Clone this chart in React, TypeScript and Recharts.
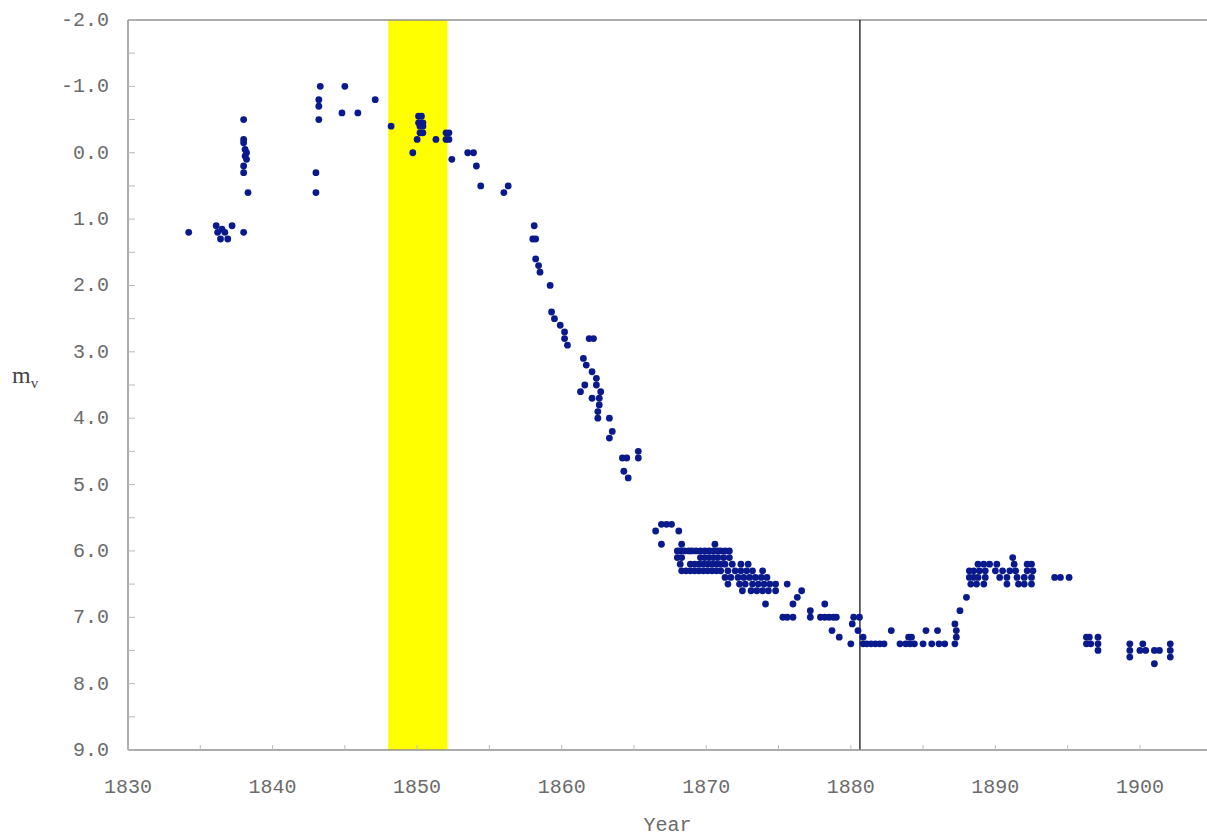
import React from 'react';
import {
  ReferenceArea,
  ReferenceLine,
  Scatter,
  ScatterChart,
  XAxis,
  YAxis,
} from 'recharts';

// [year, visual magnitude]
const earlyObs: [number, number][] = [
  [1834.2, 1.2],
  [1836.1, 1.1], [1836.2, 1.2], [1836.4, 1.3], [1836.5, 1.15], [1836.7, 1.2], [1836.9, 1.3], [1837.2, 1.1], [1838.0, 1.2],
  [1838.0, -0.5], [1838.0, -0.2], [1838.0, -0.15], [1838.1, -0.05], [1838.2, 0.0], [1838.1, 0.05], [1838.2, 0.1],
  [1838.0, 0.2], [1838.0, 0.3], [1838.3, 0.6],
  [1843.3, -1.0], [1843.2, -0.8], [1843.2, -0.7], [1843.2, -0.5], [1843.0, 0.3], [1843.0, 0.6],
  [1845.0, -1.0], [1844.8, -0.6], [1845.9, -0.6], [1847.1, -0.8], [1848.2, -0.4],
];

const outburstObs: [number, number][] = [
  [1850.1, -0.55], [1850.3, -0.55], [1850.1, -0.45], [1850.4, -0.45], [1850.2, -0.4], [1850.4, -0.4],
  [1850.2, -0.3], [1850.4, -0.3], [1850.0, -0.2], [1849.7, 0.0], [1851.3, -0.2],
  [1852.0, -0.3], [1852.2, -0.3], [1852.0, -0.2], [1852.2, -0.2], [1852.4, 0.1],
];

const declineObs: [number, number][] = [
  [1853.5, 0.0], [1853.9, 0.0], [1854.1, 0.2], [1854.4, 0.5], [1856.0, 0.6], [1856.3, 0.5],
  [1858.1, 1.1], [1858.0, 1.3], [1858.2, 1.3], [1858.2, 1.6], [1858.4, 1.7], [1858.5, 1.8],
  [1859.2, 2.0], [1859.3, 2.4], [1859.5, 2.5], [1859.9, 2.6], [1860.2, 2.7], [1860.2, 2.8], [1860.4, 2.9],
  [1861.9, 2.8], [1862.2, 2.8], [1861.5, 3.1], [1861.7, 3.2], [1862.1, 3.3], [1862.4, 3.4], [1862.4, 3.5],
  [1861.6, 3.5], [1861.3, 3.6], [1862.7, 3.6], [1862.1, 3.7], [1862.6, 3.7], [1862.6, 3.8], [1862.5, 3.9],
  [1862.5, 4.0], [1863.3, 4.0], [1863.5, 4.2], [1863.3, 4.3], [1864.2, 4.6], [1864.5, 4.6], [1865.3, 4.5],
  [1865.3, 4.6], [1864.3, 4.8], [1864.6, 4.9],
  [1866.5, 5.7], [1866.9, 5.6], [1867.25, 5.6], [1867.6, 5.6], [1868.1, 5.7], [1866.9, 5.9],
];

const plateauObs: [number, number][] = [
  [1868.3, 5.9], [1870.6, 5.9],
  [1868.0, 6.0], [1868.2, 6.0], [1868.5, 6.0], [1868.8, 6.0], [1869.0, 6.0], [1869.3, 6.0], [1869.6, 6.0],
  [1869.9, 6.0], [1870.2, 6.0], [1870.5, 6.0], [1870.8, 6.0], [1871.0, 6.0], [1871.3, 6.0], [1871.6, 6.0],
  [1868.0, 6.1], [1868.3, 6.1], [1869.6, 6.1], [1869.9, 6.1], [1870.2, 6.1], [1870.5, 6.1], [1870.8, 6.1],
  [1871.2, 6.1], [1871.6, 6.1],
  [1868.2, 6.2], [1868.9, 6.2], [1869.2, 6.2], [1869.5, 6.2], [1869.8, 6.2], [1870.1, 6.2], [1870.4, 6.2],
  [1870.7, 6.2], [1871.0, 6.2], [1871.3, 6.2], [1871.8, 6.2], [1872.4, 6.2], [1872.9, 6.2],
  [1868.3, 6.3], [1868.6, 6.3], [1868.9, 6.3], [1869.2, 6.3], [1869.5, 6.3], [1869.8, 6.3], [1870.1, 6.3],
  [1870.4, 6.3], [1870.7, 6.3], [1871.0, 6.3], [1871.5, 6.3], [1872.0, 6.3], [1872.4, 6.3], [1872.8, 6.3],
  [1873.2, 6.3], [1873.9, 6.3],
  [1871.3, 6.4], [1871.7, 6.4], [1872.2, 6.4], [1872.6, 6.4], [1873.0, 6.4], [1873.4, 6.4], [1873.8, 6.4],
  [1874.2, 6.4],
  [1871.5, 6.5], [1872.3, 6.5], [1872.7, 6.5], [1873.2, 6.5], [1873.6, 6.5], [1874.0, 6.5], [1874.4, 6.5],
  [1874.8, 6.5], [1875.6, 6.5],
  [1872.5, 6.6], [1873.1, 6.6], [1873.5, 6.6], [1873.9, 6.6], [1874.3, 6.6], [1874.8, 6.6],
  [1874.1, 6.8], [1876.6, 6.6], [1876.3, 6.7], [1876.0, 6.8], [1875.3, 7.0], [1875.6, 7.0], [1876.0, 7.0],
  [1877.2, 6.9], [1877.2, 7.0], [1878.2, 6.8], [1877.9, 7.0], [1878.2, 7.0], [1878.5, 7.0], [1878.8, 7.0],
  [1879.0, 7.0], [1878.7, 7.2], [1879.2, 7.3], [1880.0, 7.4],
  [1880.2, 7.0], [1880.6, 7.0], [1880.1, 7.1], [1880.5, 7.2], [1880.85, 7.3], [1880.85, 7.4],
];

const lateObs: [number, number][] = [
  [1881.1, 7.4], [1881.4, 7.4], [1881.7, 7.4], [1882.0, 7.4], [1882.3, 7.4], [1882.8, 7.2],
  [1883.4, 7.4], [1883.8, 7.4], [1884.1, 7.4], [1884.4, 7.4], [1884.0, 7.3], [1884.2, 7.3], [1885.0, 7.4],
  [1885.2, 7.2], [1885.6, 7.4], [1886.0, 7.2], [1886.1, 7.4], [1886.5, 7.4],
  [1887.2, 7.4], [1887.3, 7.3], [1887.3, 7.2], [1887.2, 7.1], [1887.55, 6.9], [1888.0, 6.7],
  [1891.2, 6.1],
  [1888.8, 6.2], [1889.2, 6.2], [1889.6, 6.2], [1890.1, 6.2], [1891.3, 6.2], [1892.2, 6.2], [1892.5, 6.2],
  [1888.2, 6.3], [1888.5, 6.3], [1888.9, 6.3], [1889.3, 6.3], [1890.0, 6.3], [1890.5, 6.3], [1891.0, 6.3],
  [1891.4, 6.3], [1892.2, 6.3], [1892.6, 6.3],
  [1888.2, 6.4], [1888.5, 6.4], [1888.8, 6.4], [1889.3, 6.4], [1890.3, 6.4], [1890.8, 6.4], [1891.5, 6.4],
  [1892.0, 6.4], [1892.5, 6.4],
  [1888.3, 6.5], [1888.7, 6.5], [1889.2, 6.5], [1890.8, 6.5], [1891.6, 6.5], [1892.0, 6.5], [1892.5, 6.5],
  [1894.1, 6.4], [1894.5, 6.4], [1895.1, 6.4],
  [1896.3, 7.3], [1896.5, 7.3], [1896.3, 7.4], [1896.6, 7.4], [1897.1, 7.3], [1897.1, 7.4], [1897.1, 7.5],
  [1899.3, 7.4], [1899.3, 7.5], [1899.3, 7.6], [1900.2, 7.4], [1900.0, 7.5], [1900.4, 7.5],
  [1901.0, 7.5], [1901.35, 7.5], [1901.0, 7.7], [1902.1, 7.4], [1902.1, 7.5], [1902.1, 7.6],
];

const yearTicks = [1830, 1835, 1840, 1845, 1850, 1855, 1860, 1865, 1870, 1875, 1880, 1885, 1890, 1895, 1900];
const magTicks = [-2, -1.5, -1, -0.5, 0, 0.5, 1, 1.5, 2, 2.5, 3, 3.5, 4, 4.5, 5, 5.5, 6, 6.5, 7, 7.5, 8, 8.5, 9];

const greatEruption = { from: 1848, to: 1852.1 };
const markerYear = 1880.63;

const data = [...earlyObs, ...outburstObs, ...declineObs, ...plateauObs, ...lateObs].map(([x, y]) => ({ x, y }));

const monoFont = '"Liberation Mono", "Courier New", monospace';
const axisGrey = '#8f8f8f';
const labelGrey = '#6b6b6b';

const YearTick = (props: any) => {
  const { x, y, payload } = props;
  const v = payload.value as number;
  return (
    <g>
      <line x1={x} x2={x} y1={y} y2={y - 5} stroke="#bbb" />
      {v % 10 === 0 && (
        <text x={x} y={y + 43} textAnchor="middle" fill={labelGrey} fontFamily={monoFont} fontSize={20}>
          {v}
        </text>
      )}
    </g>
  );
};

const MagTick = (props: any) => {
  const { x, y, payload } = props;
  const v = payload.value as number;
  return (
    <g>
      <line x1={x} x2={x + 7} y1={y} y2={y} stroke="#bbb" />
      {Number.isInteger(v) && (
        <text x={x - 19} y={y + 6} textAnchor="end" fill={labelGrey} fontFamily={monoFont} fontSize={20}>
          {v.toFixed(1)}
        </text>
      )}
    </g>
  );
};

const MagLabel = () => (
  <text x={12} y={383} fill="#444" fontFamily='"Liberation Serif", serif' fontSize={24}>
    m
    <tspan fontSize={15} dy={5}>v</tspan>
  </text>
);

const App = () => {
  return (
    <div style={{ position: 'absolute', left: 0, top: 0, background: '#fff' }}>
      <ScatterChart width={1207} height={837} margin={{ top: 20, right: 0, bottom: 0, left: 0 }}>
        <XAxis
          type="number"
          dataKey="x"
          domain={[1830, 1904.64]}
          ticks={yearTicks}
          allowDataOverflow
          height={87}
          stroke={axisGrey}
          strokeWidth={1.5}
          tickSize={0}
          tickMargin={0}
          tickLine={false}
          tick={<YearTick />}
          label={{
            value: 'Year',
            position: 'insideBottom',
            offset: 0,
            dy: -6,
            fill: labelGrey,
            fontFamily: monoFont,
            fontSize: 20,
          }}
        />
        <YAxis
          type="number"
          dataKey="y"
          domain={[-2, 9]}
          reversed
          ticks={magTicks}
          allowDataOverflow
          width={128}
          stroke={axisGrey}
          strokeWidth={1.5}
          tickSize={0}
          tickMargin={0}
          tickLine={false}
          tick={<MagTick />}
          label={{ content: () => <MagLabel /> }}
        />
        <ReferenceArea
          x1={greatEruption.from}
          x2={greatEruption.to}
          y1={-2}
          y2={9}
          fill="#ffff00"
          fillOpacity={1}
          stroke="none"
        />
        <ReferenceLine y={-2} stroke={axisGrey} strokeWidth={1.5} />
        <ReferenceLine x={markerYear} stroke="#000" strokeWidth={1.2} />
        <Scatter
          data={data}
          isAnimationActive={false}
          shape={(p: any) => <circle cx={p.cx} cy={p.cy} r={3.4} fill="#0a1a8c" />}
        />
      </ScatterChart>
    </div>
  );
};

export default App;
